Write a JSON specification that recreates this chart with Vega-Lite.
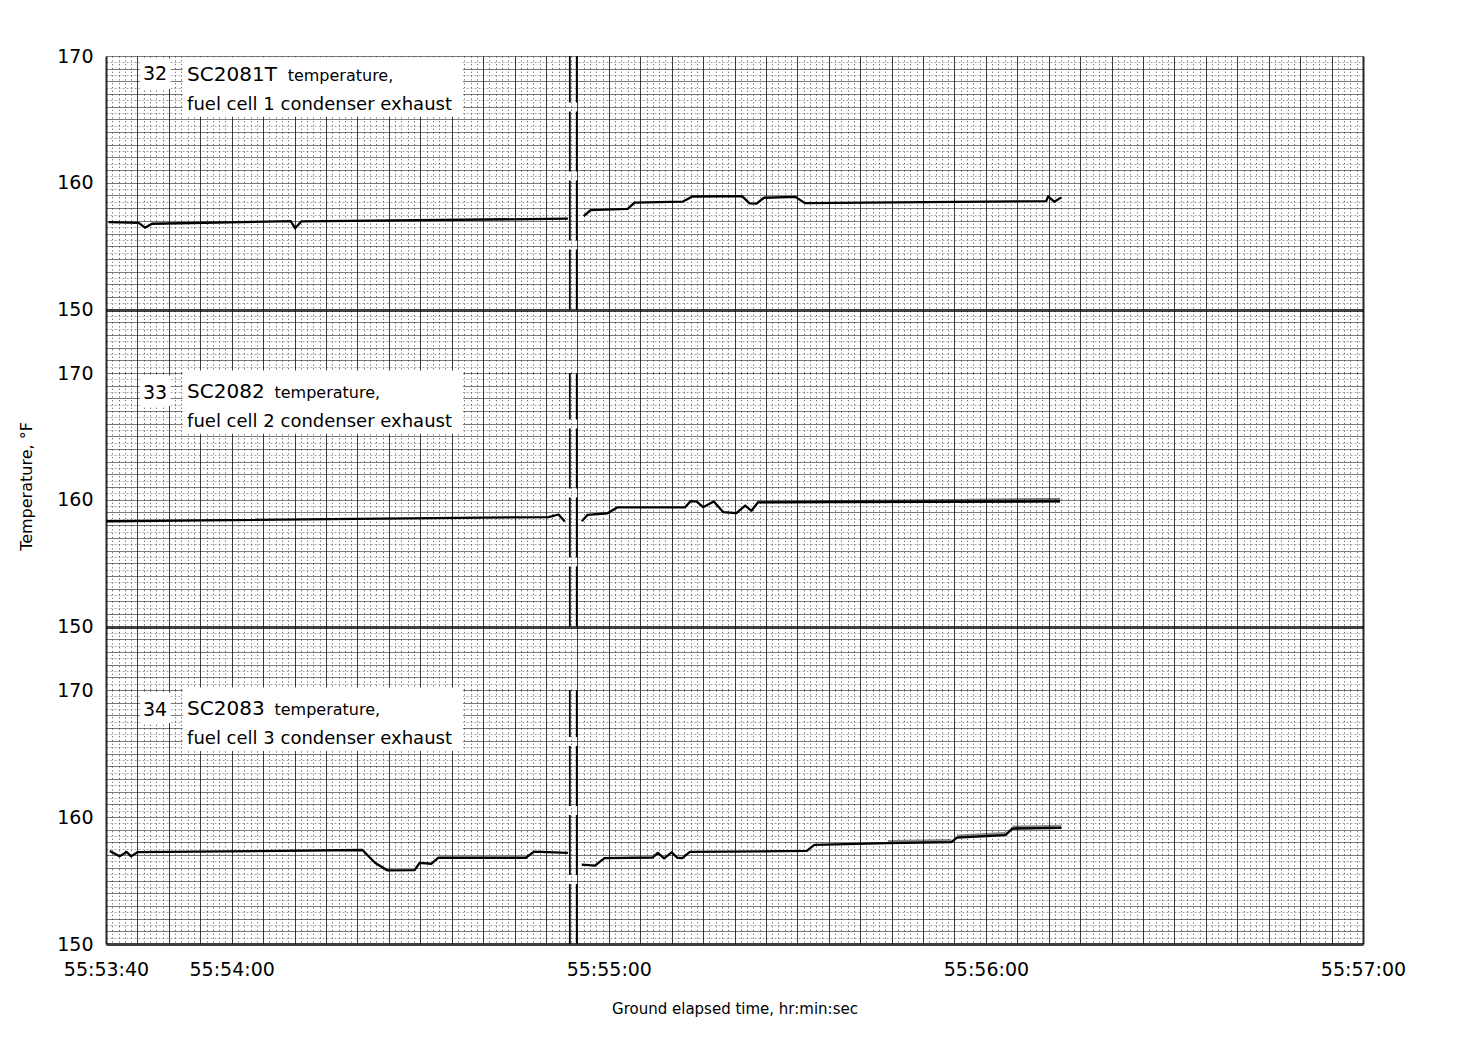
{
  "$schema": "https://vega.github.io/schema/vega-lite/v6.json",
  "background": "white",
  "padding": {"left": 18, "top": 47, "right": 10, "bottom": 5},
  "bounds": "flush",
  "spacing": 0,
  "config": {
    "font": "DejaVu Sans",
    "view": {"stroke": null},
    "axis": {"ticks": false, "tickSize": 0, "domain": false, "labelColor": "#000", "titleColor": "#000", "titleFontWeight": "normal", "labelFont": "DejaVu Sans", "titleFont": "DejaVu Sans"}
  },
  "datasets": {
    "traces": [
      {"ch": "SC2081T", "seg": 1, "s": 0.4, "T": 156.9},
      {"ch": "SC2081T", "seg": 1, "s": 5.2, "T": 156.84},
      {"ch": "SC2081T", "seg": 1, "s": 6.2, "T": 156.46},
      {"ch": "SC2081T", "seg": 1, "s": 7.3, "T": 156.77},
      {"ch": "SC2081T", "seg": 1, "s": 29.4, "T": 156.97},
      {"ch": "SC2081T", "seg": 1, "s": 30.1, "T": 156.41},
      {"ch": "SC2081T", "seg": 1, "s": 31.1, "T": 156.96},
      {"ch": "SC2081T", "seg": 1, "s": 73.5, "T": 157.17},
      {"ch": "SC2081T", "seg": 2, "s": 76.0, "T": 157.37},
      {"ch": "SC2081T", "seg": 2, "s": 77.1, "T": 157.85},
      {"ch": "SC2081T", "seg": 2, "s": 83.0, "T": 157.95},
      {"ch": "SC2081T", "seg": 2, "s": 84.1, "T": 158.44},
      {"ch": "SC2081T", "seg": 2, "s": 91.8, "T": 158.52},
      {"ch": "SC2081T", "seg": 2, "s": 93.3, "T": 158.92},
      {"ch": "SC2081T", "seg": 2, "s": 101.2, "T": 158.95},
      {"ch": "SC2081T", "seg": 2, "s": 102.4, "T": 158.38},
      {"ch": "SC2081T", "seg": 2, "s": 103.5, "T": 158.36},
      {"ch": "SC2081T", "seg": 2, "s": 104.7, "T": 158.82},
      {"ch": "SC2081T", "seg": 2, "s": 109.7, "T": 158.89},
      {"ch": "SC2081T", "seg": 2, "s": 111.2, "T": 158.4},
      {"ch": "SC2081T", "seg": 2, "s": 149.6, "T": 158.56},
      {"ch": "SC2081T", "seg": 2, "s": 149.9, "T": 158.93},
      {"ch": "SC2081T", "seg": 2, "s": 150.9, "T": 158.5},
      {"ch": "SC2081T", "seg": 2, "s": 152.0, "T": 158.85},
      {"ch": "SC2082", "seg": 1, "s": 0.1, "T": 158.31},
      {"ch": "SC2082", "seg": 1, "s": 70.4, "T": 158.64},
      {"ch": "SC2082", "seg": 1, "s": 72.0, "T": 158.84},
      {"ch": "SC2082", "seg": 1, "s": 73.0, "T": 158.28},
      {"ch": "SC2082", "seg": 2, "s": 75.7, "T": 158.3},
      {"ch": "SC2082", "seg": 2, "s": 76.6, "T": 158.81},
      {"ch": "SC2082", "seg": 2, "s": 79.8, "T": 158.94},
      {"ch": "SC2082", "seg": 2, "s": 81.4, "T": 159.41},
      {"ch": "SC2082", "seg": 2, "s": 92.1, "T": 159.4},
      {"ch": "SC2082", "seg": 2, "s": 93.0, "T": 159.89},
      {"ch": "SC2082", "seg": 2, "s": 94.0, "T": 159.85},
      {"ch": "SC2082", "seg": 2, "s": 95.0, "T": 159.42},
      {"ch": "SC2082", "seg": 2, "s": 96.7, "T": 159.87},
      {"ch": "SC2082", "seg": 2, "s": 98.2, "T": 159.03},
      {"ch": "SC2082", "seg": 2, "s": 100.3, "T": 158.95},
      {"ch": "SC2082", "seg": 2, "s": 101.7, "T": 159.55},
      {"ch": "SC2082", "seg": 2, "s": 102.7, "T": 159.13},
      {"ch": "SC2082", "seg": 2, "s": 103.7, "T": 159.79},
      {"ch": "SC2082", "seg": 2, "s": 151.8, "T": 159.88},
      {"ch": "SC2083", "seg": 1, "s": 0.6, "T": 157.33},
      {"ch": "SC2083", "seg": 1, "s": 2.15, "T": 156.9},
      {"ch": "SC2083", "seg": 1, "s": 3.26, "T": 157.25},
      {"ch": "SC2083", "seg": 1, "s": 4.0, "T": 156.9},
      {"ch": "SC2083", "seg": 1, "s": 5.0, "T": 157.23},
      {"ch": "SC2083", "seg": 1, "s": 40.8, "T": 157.4},
      {"ch": "SC2083", "seg": 1, "s": 42.8, "T": 156.4},
      {"ch": "SC2083", "seg": 1, "s": 44.8, "T": 155.79},
      {"ch": "SC2083", "seg": 1, "s": 49.1, "T": 155.81},
      {"ch": "SC2083", "seg": 1, "s": 49.9, "T": 156.39},
      {"ch": "SC2083", "seg": 1, "s": 51.8, "T": 156.32},
      {"ch": "SC2083", "seg": 1, "s": 52.9, "T": 156.8},
      {"ch": "SC2083", "seg": 1, "s": 66.8, "T": 156.79},
      {"ch": "SC2083", "seg": 1, "s": 68.1, "T": 157.27},
      {"ch": "SC2083", "seg": 1, "s": 73.5, "T": 157.17},
      {"ch": "SC2083", "seg": 2, "s": 75.7, "T": 156.25},
      {"ch": "SC2083", "seg": 2, "s": 77.8, "T": 156.17},
      {"ch": "SC2083", "seg": 2, "s": 79.3, "T": 156.76},
      {"ch": "SC2083", "seg": 2, "s": 87.0, "T": 156.81},
      {"ch": "SC2083", "seg": 2, "s": 87.8, "T": 157.17},
      {"ch": "SC2083", "seg": 2, "s": 88.8, "T": 156.74},
      {"ch": "SC2083", "seg": 2, "s": 90.0, "T": 157.22},
      {"ch": "SC2083", "seg": 2, "s": 90.9, "T": 156.79},
      {"ch": "SC2083", "seg": 2, "s": 91.7, "T": 156.76},
      {"ch": "SC2083", "seg": 2, "s": 92.9, "T": 157.25},
      {"ch": "SC2083", "seg": 2, "s": 111.5, "T": 157.33},
      {"ch": "SC2083", "seg": 2, "s": 112.7, "T": 157.8},
      {"ch": "SC2083", "seg": 2, "s": 124.4, "T": 157.94},
      {"ch": "SC2083", "seg": 2, "s": 134.5, "T": 158.02},
      {"ch": "SC2083", "seg": 2, "s": 135.4, "T": 158.38},
      {"ch": "SC2083", "seg": 2, "s": 143.1, "T": 158.57},
      {"ch": "SC2083", "seg": 2, "s": 144.2, "T": 159.09},
      {"ch": "SC2083", "seg": 2, "s": 152.0, "T": 159.14}
    ],
    "bands": [
      {"ch": "SC2082", "seg": 1, "s": 103.7, "lo": 159.72, "hi": 159.92},
      {"ch": "SC2082", "seg": 1, "s": 127.0, "lo": 159.76, "hi": 160.02},
      {"ch": "SC2082", "seg": 1, "s": 151.8, "lo": 159.8, "hi": 160.15},
      {"ch": "SC2083", "seg": 1, "s": 124.4, "lo": 157.94, "hi": 158.18},
      {"ch": "SC2083", "seg": 1, "s": 134.5, "lo": 158.02, "hi": 158.26},
      {"ch": "SC2083", "seg": 2, "s": 135.4, "lo": 158.38, "hi": 158.62},
      {"ch": "SC2083", "seg": 2, "s": 143.1, "lo": 158.57, "hi": 158.81},
      {"ch": "SC2083", "seg": 3, "s": 144.2, "lo": 159.09, "hi": 159.33},
      {"ch": "SC2083", "seg": 3, "s": 152.0, "lo": 159.14, "hi": 159.38}
    ],
    "events": [{"s": 73.8}, {"s": 74.9}]
  },
  "vconcat": [
    {
      "width": 1257, "height": 317,
      "data": {"values": [{"num": "32", "code": "SC2081T", "desc": "fuel cell 1 condenser exhaust"}]},
      "layer": [
        {
          "data": {"name": "traces"},
          "transform": [{"filter": "datum.ch === 'SC2081T'"}],
          "mark": {"type": "line", "color": "#000", "strokeWidth": 2.3, "strokeJoin": "round"},
          "encoding": {
            "x": {"field": "s", "type": "quantitative", "scale": {"domain": [0, 200], "nice": false, "zero": false},
              "axis": {"title": null, "labels": false, "tickCount": 200, "grid": true, "gridColor": "#000",
                "gridDash": {"condition": {"test": "datum.value % 5 === 0", "value": []}, "value": [1.2, 2.6]},
                "gridOpacity": {"condition": {"test": "datum.value % 5 === 0", "value": 0.85}, "value": 0.65},
                "gridWidth": {"condition": {"test": "datum.value === 0 || datum.value === 200", "value": 2}, "value": 0.9}}},
            "y": {"field": "T", "type": "quantitative", "scale": {"domain": [145, 170], "nice": false, "zero": false},
              "axis": {"title": null, "tickCount": 50, "labelExpr": "datum.value % 10 === 0 && datum.value >= 150 ? '' + datum.value : ''",
                "labelOverlap": false, "labelFlush": false, "labelPadding": 13, "labelFontSize": 19, "grid": true,
                "gridColor": {"condition": {"test": "datum.value === 145", "value": "transparent"}, "value": "#000"},
                "gridDash": {"condition": {"test": "datum.value % 1 === 0", "value": []}, "value": [2, 2]},
                "gridOpacity": {"condition": {"test": "datum.value % 1 === 0", "value": 0.75}, "value": 0.5},
                "gridWidth": {"condition": {"test": "datum.value === 150", "value": 3}, "value": 0.7}}},
            "detail": {"field": "seg"}
          }
        },
        {
          "data": {"name": "events"},
          "mark": {"type": "rule", "color": "#000", "strokeWidth": 1.8, "strokeDash": [60, 9]},
          "encoding": {"x": {"field": "s", "type": "quantitative"}, "y": {"datum": 150, "type": "quantitative"}, "y2": {"datum": 170}}
        },
        {
          "mark": {"type": "rect", "fill": "white"},
          "encoding": {"x": {"datum": 12.2, "type": "quantitative"}, "x2": {"datum": 56.8}, "y": {"datum": 165.2, "type": "quantitative"}, "y2": {"datum": 169.9}}
        },
        {
          "mark": {"type": "rect", "fill": "white"},
          "encoding": {"x": {"datum": 5.4, "type": "quantitative"}, "x2": {"datum": 10.3}, "y": {"datum": 167.4, "type": "quantitative"}, "y2": {"datum": 169.8}}
        },
        {
          "mark": {"type": "text", "align": "center", "baseline": "middle", "fontSize": 19, "color": "#000"},
          "encoding": {"x": {"datum": 7.8, "type": "quantitative"}, "y": {"datum": 168.6, "type": "quantitative"}, "text": {"field": "num"}}
        },
        {
          "mark": {"type": "text", "align": "left", "baseline": "alphabetic", "fontSize": 20, "color": "#000"},
          "encoding": {"x": {"datum": 12.9, "type": "quantitative"}, "y": {"datum": 168.0, "type": "quantitative"}, "text": {"field": "code"}}
        },
        {
          "mark": {"type": "text", "align": "left", "baseline": "alphabetic", "fontSize": 16, "color": "#000"},
          "encoding": {"x": {"datum": 28.9, "type": "quantitative"}, "y": {"datum": 168.0, "type": "quantitative"}, "text": {"value": "temperature,"}}
        },
        {
          "mark": {"type": "text", "align": "left", "baseline": "alphabetic", "fontSize": 18, "color": "#000"},
          "encoding": {"x": {"datum": 12.9, "type": "quantitative"}, "y": {"datum": 165.75, "type": "quantitative"}, "text": {"field": "desc"}}
        }
      ]
    },
    {
      "width": 1257, "height": 317,
      "data": {"values": [{"num": "33", "code": "SC2082", "desc": "fuel cell 2 condenser exhaust"}]},
      "layer": [
        {
          "data": {"name": "traces"},
          "transform": [{"filter": "datum.ch === 'SC2082'"}],
          "mark": {"type": "line", "color": "#000", "strokeWidth": 2.3, "strokeJoin": "round"},
          "encoding": {
            "x": {"field": "s", "type": "quantitative", "scale": {"domain": [0, 200], "nice": false, "zero": false},
              "axis": {"title": null, "labels": false, "tickCount": 200, "grid": true, "gridColor": "#000",
                "gridDash": {"condition": {"test": "datum.value % 5 === 0", "value": []}, "value": [1.2, 2.6]},
                "gridOpacity": {"condition": {"test": "datum.value % 5 === 0", "value": 0.85}, "value": 0.65},
                "gridWidth": {"condition": {"test": "datum.value === 0 || datum.value === 200", "value": 2}, "value": 0.9}}},
            "y": {"field": "T", "type": "quantitative", "scale": {"domain": [145, 170], "nice": false, "zero": false},
              "axis": {"title": "Temperature, °F", "titleFontSize": 16, "titlePadding": 22, "titleY": 113,
                "tickCount": 50, "labelExpr": "datum.value % 10 === 0 && datum.value >= 150 ? '' + datum.value : ''",
                "labelOverlap": false, "labelFlush": false, "labelPadding": 13, "labelFontSize": 19, "grid": true,
                "gridColor": {"condition": {"test": "datum.value === 145", "value": "transparent"}, "value": "#000"},
                "gridDash": {"condition": {"test": "datum.value % 1 === 0", "value": []}, "value": [2, 2]},
                "gridOpacity": {"condition": {"test": "datum.value % 1 === 0", "value": 0.75}, "value": 0.5},
                "gridWidth": {"condition": {"test": "datum.value === 150", "value": 3}, "value": 0.7}}},
            "detail": {"field": "seg"}
          }
        },
        {
          "data": {"name": "bands"},
          "transform": [{"filter": "datum.ch === 'SC2082'"}],
          "mark": {"type": "area", "color": "#000", "opacity": 0.55},
          "encoding": {"x": {"field": "s", "type": "quantitative"}, "y": {"field": "lo", "type": "quantitative"}, "y2": {"field": "hi"}, "detail": {"field": "seg"}}
        },
        {
          "data": {"name": "events"},
          "mark": {"type": "rule", "color": "#000", "strokeWidth": 1.8, "strokeDash": [60, 9]},
          "encoding": {"x": {"field": "s", "type": "quantitative"}, "y": {"datum": 150, "type": "quantitative"}, "y2": {"datum": 170}}
        },
        {
          "mark": {"type": "rect", "fill": "white"},
          "encoding": {"x": {"datum": 12.2, "type": "quantitative"}, "x2": {"datum": 56.8}, "y": {"datum": 165.2, "type": "quantitative"}, "y2": {"datum": 170.2}}
        },
        {
          "mark": {"type": "rect", "fill": "white"},
          "encoding": {"x": {"datum": 5.4, "type": "quantitative"}, "x2": {"datum": 10.3}, "y": {"datum": 167.4, "type": "quantitative"}, "y2": {"datum": 169.8}}
        },
        {
          "mark": {"type": "text", "align": "center", "baseline": "middle", "fontSize": 19, "color": "#000"},
          "encoding": {"x": {"datum": 7.8, "type": "quantitative"}, "y": {"datum": 168.4, "type": "quantitative"}, "text": {"field": "num"}}
        },
        {
          "mark": {"type": "text", "align": "left", "baseline": "alphabetic", "fontSize": 20, "color": "#000"},
          "encoding": {"x": {"datum": 12.9, "type": "quantitative"}, "y": {"datum": 168.0, "type": "quantitative"}, "text": {"field": "code"}}
        },
        {
          "mark": {"type": "text", "align": "left", "baseline": "alphabetic", "fontSize": 16, "color": "#000"},
          "encoding": {"x": {"datum": 26.8, "type": "quantitative"}, "y": {"datum": 168.0, "type": "quantitative"}, "text": {"value": "temperature,"}}
        },
        {
          "mark": {"type": "text", "align": "left", "baseline": "alphabetic", "fontSize": 18, "color": "#000"},
          "encoding": {"x": {"datum": 12.9, "type": "quantitative"}, "y": {"datum": 165.75, "type": "quantitative"}, "text": {"field": "desc"}}
        }
      ]
    },
    {
      "width": 1257, "height": 254,
      "data": {"values": [{"num": "34", "code": "SC2083", "desc": "fuel cell 3 condenser exhaust"}]},
      "layer": [
        {
          "data": {"name": "traces"},
          "transform": [{"filter": "datum.ch === 'SC2083'"}],
          "mark": {"type": "line", "color": "#000", "strokeWidth": 2.3, "strokeJoin": "round"},
          "encoding": {
            "x": {"field": "s", "type": "quantitative", "scale": {"domain": [0, 200], "nice": false, "zero": false},
              "axis": {"title": "Ground elapsed time, hr:min:sec", "titleFontSize": 15, "titlePadding": 22,
                "labelExpr": "datum.value === 0 ? '55:53:40' : datum.value === 20 ? '55:54:00' : datum.value === 80 ? '55:55:00' : datum.value === 140 ? '55:56:00' : datum.value === 200 ? '55:57:00' : ''",
                "labelOverlap": false, "labelFlush": false, "labelPadding": 16, "labelFontSize": 19,
                "tickCount": 200, "grid": true, "gridColor": "#000",
                "gridDash": {"condition": {"test": "datum.value % 5 === 0", "value": []}, "value": [1.2, 2.6]},
                "gridOpacity": {"condition": {"test": "datum.value % 5 === 0", "value": 0.85}, "value": 0.65},
                "gridWidth": {"condition": {"test": "datum.value === 0 || datum.value === 200", "value": 2}, "value": 0.9}}},
            "y": {"field": "T", "type": "quantitative", "scale": {"domain": [150, 170], "nice": false, "zero": false},
              "axis": {"title": null, "tickCount": 40, "labelExpr": "datum.value % 10 === 0 && datum.value >= 150 ? '' + datum.value : ''",
                "labelOverlap": false, "labelFlush": false, "labelPadding": 13, "labelFontSize": 19, "grid": true, "gridColor": "#000",
                "gridDash": {"condition": {"test": "datum.value % 1 === 0", "value": []}, "value": [2, 2]},
                "gridOpacity": {"condition": {"test": "datum.value % 1 === 0", "value": 0.75}, "value": 0.5},
                "gridWidth": {"condition": {"test": "datum.value === 150", "value": 3}, "value": 0.7}}},
            "detail": {"field": "seg"}
          }
        },
        {
          "data": {"name": "bands"},
          "transform": [{"filter": "datum.ch === 'SC2083'"}],
          "mark": {"type": "area", "color": "#000", "opacity": 0.45},
          "encoding": {"x": {"field": "s", "type": "quantitative"}, "y": {"field": "lo", "type": "quantitative"}, "y2": {"field": "hi"}, "detail": {"field": "seg"}}
        },
        {
          "data": {"name": "events"},
          "mark": {"type": "rule", "color": "#000", "strokeWidth": 1.8, "strokeDash": [60, 9]},
          "encoding": {"x": {"field": "s", "type": "quantitative"}, "y": {"datum": 150, "type": "quantitative"}, "y2": {"datum": 170}}
        },
        {
          "mark": {"type": "rect", "fill": "white"},
          "encoding": {"x": {"datum": 12.2, "type": "quantitative"}, "x2": {"datum": 56.8}, "y": {"datum": 165.2, "type": "quantitative"}, "y2": {"datum": 170.2}}
        },
        {
          "mark": {"type": "rect", "fill": "white"},
          "encoding": {"x": {"datum": 5.4, "type": "quantitative"}, "x2": {"datum": 10.3}, "y": {"datum": 167.4, "type": "quantitative"}, "y2": {"datum": 169.8}}
        },
        {
          "mark": {"type": "text", "align": "center", "baseline": "middle", "fontSize": 19, "color": "#000"},
          "encoding": {"x": {"datum": 7.8, "type": "quantitative"}, "y": {"datum": 168.4, "type": "quantitative"}, "text": {"field": "num"}}
        },
        {
          "mark": {"type": "text", "align": "left", "baseline": "alphabetic", "fontSize": 20, "color": "#000"},
          "encoding": {"x": {"datum": 12.9, "type": "quantitative"}, "y": {"datum": 168.0, "type": "quantitative"}, "text": {"field": "code"}}
        },
        {
          "mark": {"type": "text", "align": "left", "baseline": "alphabetic", "fontSize": 16, "color": "#000"},
          "encoding": {"x": {"datum": 26.8, "type": "quantitative"}, "y": {"datum": 168.0, "type": "quantitative"}, "text": {"value": "temperature,"}}
        },
        {
          "mark": {"type": "text", "align": "left", "baseline": "alphabetic", "fontSize": 18, "color": "#000"},
          "encoding": {"x": {"datum": 12.9, "type": "quantitative"}, "y": {"datum": 165.75, "type": "quantitative"}, "text": {"field": "desc"}}
        }
      ]
    }
  ]
}
